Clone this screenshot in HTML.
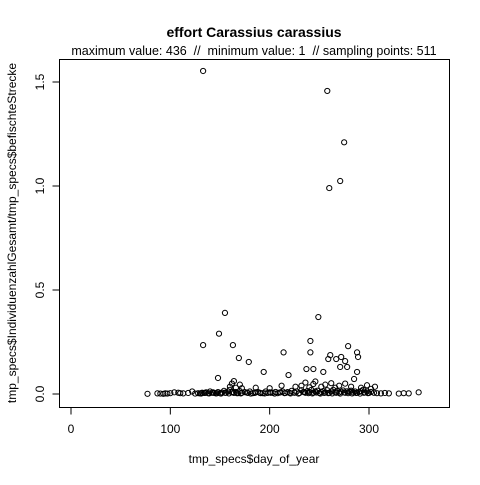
<!DOCTYPE html>
<html><head><meta charset="utf-8"><style>
body{margin:0;background:#fff}
svg text{font-family:"Liberation Sans",Arial,sans-serif;fill:#000;white-space:pre}
</style></head><body>
<svg id="chart" width="480" height="480" viewBox="0 0 480 480" xmlns="http://www.w3.org/2000/svg">
<rect width="480" height="480" fill="#fff"/>
<text x="254" y="37" font-size="14" font-weight="bold" text-anchor="middle">effort Carassius carassius</text>
<text x="254" y="55" font-size="12.5" text-anchor="middle" xml:space="preserve">maximum value: 436  //  minimum value: 1  // sampling points: 511</text>
<rect x="59.5" y="59.5" width="390" height="348" fill="none" stroke="#000"/>
<text x="254" y="463" font-size="12" text-anchor="middle">tmp_specs$day_of_year</text>
<text transform="translate(16,233) rotate(-90)" font-size="12" text-anchor="middle">tmp_specs$IndividuenzahlGesamt/tmp_specs$befischteStrecke</text>
<g id="axes"></g>
<g id="points"></g>
</svg>
<script>
const xTicks=[0,100,200,300];
const yTicks=[0,0.5,1.0,1.5];
const yTickLabels=["0.0","0.5","1.0","1.5"];
const xVals=[133,258,275,271,260,155,249,149,133,163,279,169,179,214,241,241,261,272,288,289,259,267,276,271,278,194,219,237,244,254,288,148,285,
77,87,90,93,95,97,100,104,108,110,
113,118,122,125,128,130,132,134,136,138,
140,142,144,146,148,150,152,154,156,158,
160,162,164,166,168,170,172,175,178,180,
183,186,188,190,193,196,198,200,203,206,
208,210,213,216,218,220,222,225,227,230,
232,234,236,238,240,242,244,246,248,250,
252,254,256,258,260,262,264,266,268,270,
272,274,276,278,280,282,284,286,288,290,
292,294,296,298,300,302,305,308,312,316,
320,330,335,340,350,
160,162,164,166,170,172,232,236,240,244,
246,252,256,262,266,270,276,282,292,298,
302,306,186,200,212,226,
131,135,139,143,147,151,155,159,163,167,
171,177,181,185,191,195,201,205,211,215,
221,225,229,235,239,243,247,251,255,259,
263,267,271,275,279,283,287,291,295,299];
const yVals=[1.553,1.457,1.21,1.024,0.99,0.39,0.37,0.29,0.235,0.235,0.23,0.173,0.154,0.2,0.255,0.2,0.187,0.178,0.2,0.178,0.168,0.168,0.158,0.13,0.13,0.106,0.091,0.12,0.12,0.106,0.106,0.077,0.072,
0.001,0.003,0.002,0.001,0.003,0.002,0.004,0.008,0.006,0.004,
0.003,0.005,0.012,0.002,0.004,0.003,0.006,0.005,0.008,0.004,
0.012,0.006,0.005,0.003,0.009,0.004,0.007,0.015,0.006,0.012,
0.02,0.008,0.005,0.01,0.004,0.014,0.006,0.009,0.005,0.012,
0.004,0.008,0.01,0.006,0.004,0.012,0.005,0.008,0.006,0.01,
0.004,0.007,0.012,0.005,0.009,0.006,0.015,0.008,0.012,0.005,
0.018,0.01,0.006,0.014,0.009,0.02,0.007,0.012,0.016,0.005,
0.01,0.014,0.008,0.018,0.006,0.012,0.02,0.009,0.015,0.007,
0.011,0.017,0.006,0.013,0.01,0.016,0.008,0.012,0.006,0.01,
0.014,0.02,0.008,0.012,0.005,0.01,0.006,0.004,0.003,0.005,
0.003,0.002,0.004,0.003,0.008,
0.035,0.05,0.062,0.03,0.045,0.028,0.04,0.055,0.032,0.048,
0.06,0.035,0.045,0.052,0.03,0.04,0.05,0.035,0.03,0.042,
0.025,0.035,0.03,0.028,0.04,0.035,
0.002,0.005,0.003,0.008,0.004,0.002,0.006,0.003,0.01,0.004,
0.003,0.007,0.002,0.005,0.004,0.003,0.006,0.002,0.008,0.004,
0.003,0.006,0.002,0.009,0.004,0.003,0.007,0.002,0.005,0.004,
0.003,0.006,0.002,0.008,0.004,0.003,0.005,0.002,0.006,0.004];
const NS="http://www.w3.org/2000/svg";
const xs=v=>71+v*0.9933;
const ys=v=>394-v*208;
const ax=document.getElementById('axes');
function mk(t,a,p){const e=document.createElementNS(NS,t);for(const k in a)e.setAttribute(k,a[k]);p.appendChild(e);return e;}
xTicks.forEach(t=>{
 const l=mk('line',{x1:xs(t),x2:xs(t),y1:407.5,y2:414.5,stroke:'#000'},ax);
 
 
 const tx=mk('text',{x:xs(t),y:433,'font-size':12,'text-anchor':'middle'},ax);
 tx.textContent=t;
 
 
});
yTicks.forEach((t,i)=>{
 const l=mk('line',{x1:52.5,x2:59.5,y1:ys(t),y2:ys(t),stroke:'#000'},ax);
 
 
 const tx=mk('text',{transform:`translate(44,${ys(t)}) rotate(-90)`,'font-size':12,'text-anchor':'middle'},ax);
 tx.textContent=yTickLabels[i];
 
 
});
const pg=document.getElementById('points');
const n=Math.min(xVals.length,yVals.length);
for(let i=0;i<n;i++){
 const c=mk('circle',{cx:xs(xVals[i]),cy:ys(yVals[i]),r:2.6,fill:'none',stroke:'#000','stroke-width':1},pg);
 
 
}
</script>
</body></html>
